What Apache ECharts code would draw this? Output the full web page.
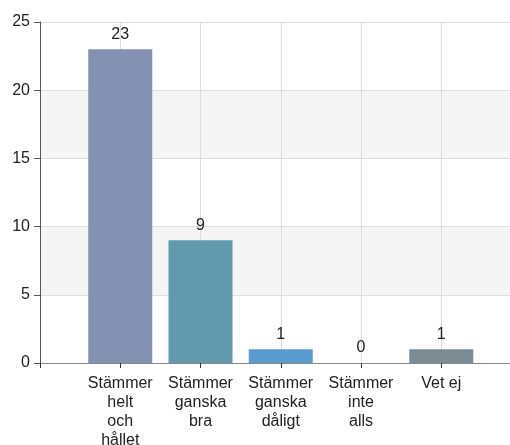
<!DOCTYPE html>
<html style="height: 100%">
<head>
	<meta charset="utf-8">
	<script type="text/javascript" src="https://cdn.jsdelivr.net/npm/echarts@6/dist/echarts.min.js"></script>
</head>
<body style="height: 100%; margin: 0; background: #fff">
	<div id="container" style="width:510px; height:445px"></div>
	<script>
	// svarsalternativ och antal svar (tomma platser i kanterna)
	var categories = ['', 'Stämmer\nhelt\noch\nhållet', 'Stämmer\nganska\nbra', 'Stämmer\nganska\ndåligt', 'Stämmer\ninte\nalls', 'Vet ej', ''];
	var values = ['-', 23, 9, 1, 0, 1, '-'];
	var colors = ['#fff', '#8392b2', '#619aae', '#5a9bd0', '#8392b2', '#7a8b94', '#fff'];
	var yTicks = [0, 5, 10, 15, 20, 25];

	var myChart = echarts.init(document.getElementById('container'));
	var barData = values.map(function (v, i) {
		return { value: v, itemStyle: { color: colors[i] } };
	});
	var option = {
		animation: false,
		textStyle: { fontFamily: 'Liberation Sans, Arial, sans-serif' },
		grid: { left: 40, top: 22, width: 481.5, height: 341, outerBoundsMode: 'none', containLabel: false },
		xAxis: {
			type: 'category',
			data: categories,
			boundaryGap: false,
			axisLine: { lineStyle: { color: '#888', width: 1 } },
			axisTick: { show: true, length: 5, lineStyle: { color: '#333' } },
			axisLabel: { color: '#222', fontSize: 16, lineHeight: 19, margin: 11, interval: 0 },
			splitLine: { show: true, lineStyle: { color: '#ddd' } }
		},
		yAxis: {
			type: 'value',
			min: yTicks[0],
			max: yTicks[yTicks.length - 1],
			interval: 5,
			axisLine: { show: true, lineStyle: { color: '#555' } },
			axisTick: { show: true, length: 6, lineStyle: { color: '#555' } },
			axisLabel: { color: '#222', fontSize: 16, margin: 10 },
			splitLine: { show: true, lineStyle: { color: '#ddd' } },
			splitArea: { show: true, areaStyle: { color: ['rgba(255,255,255,0)', '#f5f5f5'] } }
		},
		series: [{
			type: 'bar',
			data: barData,
			barWidth: 64,
			label: {
				show: true,
				position: 'top',
				distance: 7,
				color: '#222',
				fontSize: 16
			}
		}]
	};
	myChart.setOption(option);
	</script>
</body>
</html>
